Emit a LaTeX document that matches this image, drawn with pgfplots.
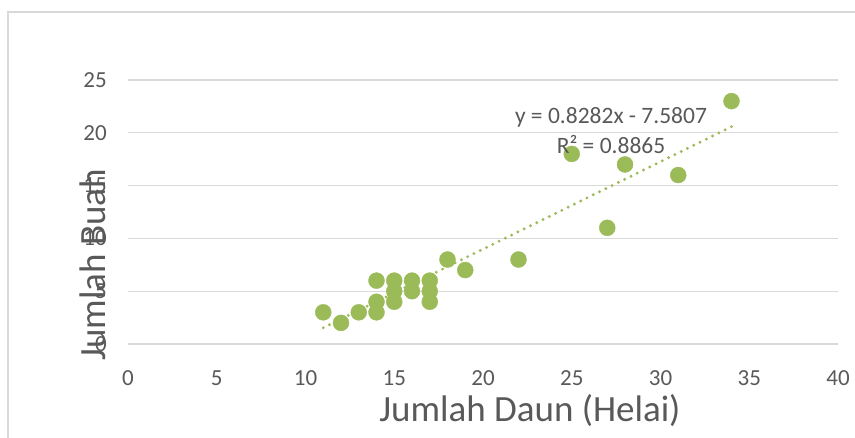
\documentclass[border=0pt]{standalone}
\usepackage{fontspec}
\setmainfont{Carlito}
\usepackage{pgfplots}
\pgfplotsset{compat=1.18}
\definecolor{xlgreen}{HTML}{9BBB59}
\definecolor{xlgrid}{HTML}{D9D9D9}
\definecolor{xltext}{HTML}{595959}

\begin{document}
\begin{tikzpicture}[x=1pt,y=1pt]
\useasboundingbox (0,0) rectangle (855,437);
% chart frame (cut off at right and bottom)
\draw[xlgrid, line width=1.5pt] (8,-5) -- (8,425) -- (870,425);

\begin{axis}[
  at={(128pt,93pt)}, anchor=origin,
  scale only axis, width=710pt, height=264pt,
  xmin=0, xmax=40, ymin=0, ymax=25,
  xtick={0,5,...,40}, ytick={0,5,...,25},
  axis line style={draw=none},
  major tick style={draw=none},
  ymajorgrids, grid style={xlgrid, line width=1.3pt},
  /pgf/number format/assume math mode=true,
  ticklabel style={font=\fontsize{23}{27}\selectfont, text=xltext, inner sep=0pt},
  xticklabel style={anchor=center, yshift=-34pt},
  yticklabel style={anchor=east, xshift=-21pt},
  clip=false,
]
% Jumlah Daun vs Jumlah Buah
\addplot[only marks, mark=*, mark size=8pt,
  mark options={fill=xlgreen, draw=xlgreen}] coordinates {
  (11,3) (12,2) (13,3)
  (14,6) (14,4) (14,3)
  (15,6) (15,5) (15,4)
  (16,6) (16,5)
  (17,6) (17,5) (17,4)
  (18,8) (19,7) (22,8)
  (25,18) (27,11) (28,17) (31,16) (34,23)
};
% linear trendline, ends from y = 0.8282x - 7.5807
\addplot[xlgreen, line width=3.2pt, line cap=round,
  dash pattern=on 0pt off 7pt] coordinates {(11,1.5295) (34,20.5781)};
\end{axis}

\node[text=xltext, font=\fontsize{23.5}{28}\selectfont] at (611,320) {y = 0.8282x - 7.5807};
\node[text=xltext, font=\fontsize{23.5}{28}\selectfont] at (611,292) {R² = 0.8865};
\node[text=xltext, font=\fontsize{37}{44}\selectfont] at (530,26) {Jumlah Daun (Helai)};
\node[text=xltext, font=\fontsize{37}{44}\selectfont, rotate=90] at (93,172) {Jumlah Buah};
\end{tikzpicture}
\end{document}
